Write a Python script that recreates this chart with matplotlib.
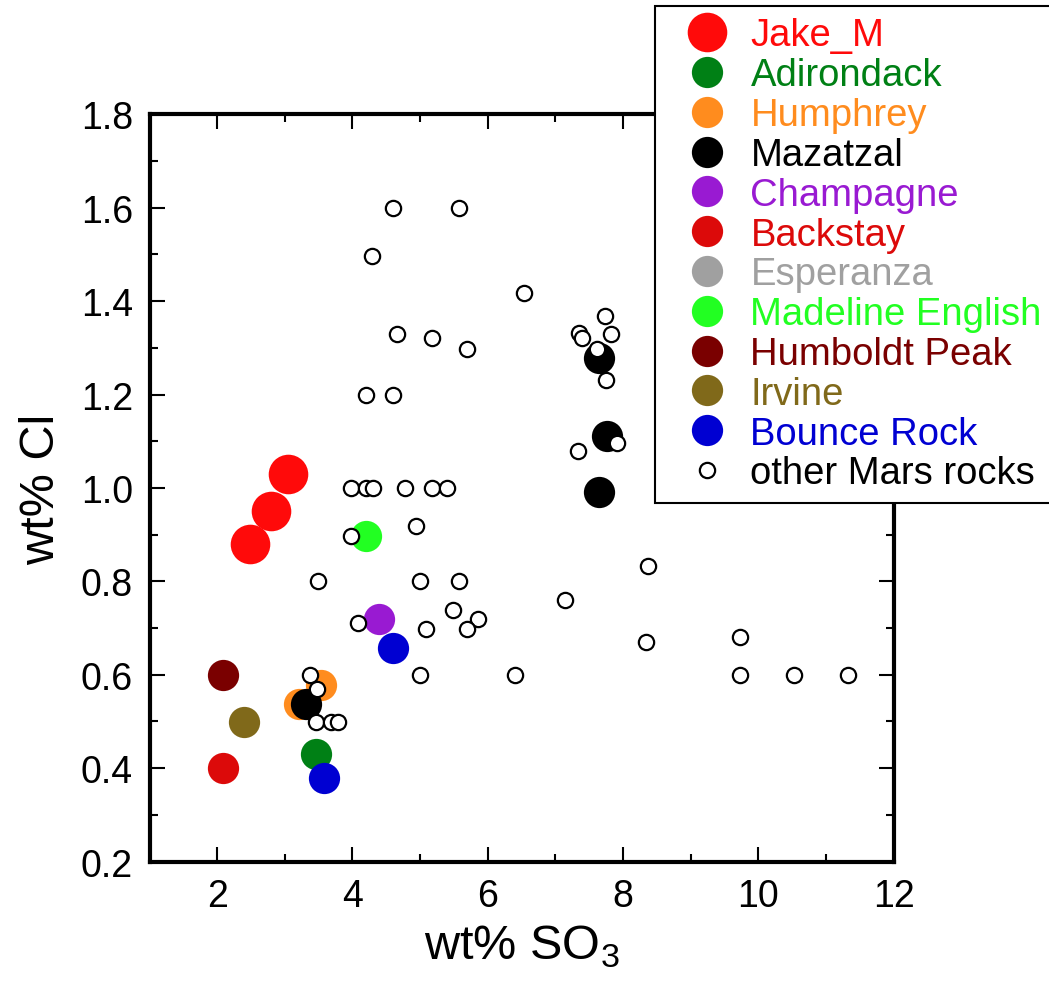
import matplotlib
matplotlib.use('Agg')
import matplotlib.pyplot as plt

plt.rcParams['font.family'] = ['Liberation Sans', 'DejaVu Sans']
plt.rcParams['mathtext.fontset'] = 'custom'
plt.rcParams['mathtext.rm'] = 'Liberation Sans'

# wt% SO3 (x) and wt% Cl (y)
jake_x = [3.05, 2.80, 2.48]
jake_y = [1.03, 0.95, 0.88]
adirondack_x = [3.46]
adirondack_y = [0.43]
humphrey_x = [3.53, 3.21]
humphrey_y = [0.578, 0.538]
mazatzal_x = [3.31, 7.64, 7.76, 7.64]
mazatzal_y = [0.538, 1.279, 1.112, 0.991]
champagne_x = [4.39]
champagne_y = [0.72]
backstay_x = [2.08]
backstay_y = [0.40]
esperanza_x = []
esperanza_y = []
madeline_x = [4.20]
madeline_y = [0.898]
humboldt_x = [2.08]
humboldt_y = [0.60]
irvine_x = [2.39]
irvine_y = [0.498]
bounce_x = [4.60, 3.58]
bounce_y = [0.658, 0.378]

other_x = [4.60, 5.58, 4.29, 6.53, 4.66, 5.18, 5.70, 4.20, 4.60,
           3.98, 4.20, 4.31, 4.78, 5.18, 5.40, 4.94, 3.98,
           3.49, 5.00, 5.58, 5.49, 5.85, 5.70, 5.09, 4.08,
           5.00, 3.37, 3.47, 3.46, 3.68, 3.79, 6.40,
           7.73, 7.35, 7.40, 7.82, 7.61, 7.75, 7.33, 7.91,
           8.37, 7.14, 8.34, 9.73, 9.73, 10.53, 11.33]
other_y = [1.60, 1.60, 1.497, 1.418, 1.329, 1.32, 1.297, 1.20, 1.20,
           1.00, 1.00, 1.00, 1.00, 1.00, 1.00, 0.919, 0.898,
           0.80, 0.80, 0.80, 0.738, 0.72, 0.698, 0.698, 0.71,
           0.60, 0.60, 0.569, 0.498, 0.498, 0.498, 0.60,
           1.369, 1.331, 1.321, 1.329, 1.298, 1.231, 1.08, 1.097,
           0.832, 0.76, 0.671, 0.68, 0.60, 0.60, 0.60]

groups = [
    ('Jake_M', jake_x, jake_y, '#ff0a0a', 28.5),
    ('Adirondack', adirondack_x, adirondack_y, '#008015', 22.5),
    ('Humphrey', humphrey_x, humphrey_y, '#ff8c1e', 22.5),
    ('Mazatzal', mazatzal_x, mazatzal_y, '#000000', 22.5),
    ('Champagne', champagne_x, champagne_y, '#991ad2', 22.5),
    ('Backstay', backstay_x, backstay_y, '#dc0a0a', 22.5),
    ('Esperanza', esperanza_x, esperanza_y, '#a0a0a0', 22.5),
    ('Madeline English', madeline_x, madeline_y, '#22ff22', 22.5),
    ('Humboldt Peak', humboldt_x, humboldt_y, '#7a0000', 22.5),
    ('Irvine', irvine_x, irvine_y, '#80691a', 22.5),
    ('Bounce Rock', bounce_x, bounce_y, '#0000d2', 22.5),
]

fig = plt.figure(figsize=(10.49, 9.87), dpi=100)
ax = fig.add_axes([0.1426, 0.1261, 0.7092, 0.7571])

for name, xs, ys, col, ms in groups:
    ax.plot(xs, ys, 'o', color=col, ms=ms, mec='none', label=name)
ax.plot(other_x, other_y, 'o', mfc='white', mec='black', ms=11, mew=1.6,
        label='other Mars rocks')

ax.set_xlim(1, 12)
ax.set_ylim(0.2, 1.8)
ax.set_xticks([2, 4, 6, 8, 10, 12])
ax.set_xticks([3, 5, 7, 9, 11], minor=True)
ax.set_yticks([0.2, 0.4, 0.6, 0.8, 1.0, 1.2, 1.4, 1.6, 1.8])
ax.set_yticks([0.3, 0.5, 0.7, 0.9, 1.1, 1.3, 1.5, 1.7], minor=True)
ax.yaxis.set_major_formatter(plt.FormatStrFormatter('%.1f'))
ax.tick_params(which='both', direction='in', top=True, right=True, width=1.5)
ax.tick_params(which='major', length=11, labelsize=27, pad=12)
ax.tick_params(which='minor', length=6)
for s in ax.spines.values():
    s.set_linewidth(3)

ax.set_xlabel('wt% SO$_{\\mathregular{3}}$', fontsize=35, labelpad=6)
ax.set_ylabel('wt% Cl', fontsize=35, labelpad=12)

leg = ax.legend(loc='upper left', bbox_to_anchor=(0.6244, 0.9929),
                bbox_transform=fig.transFigure, borderaxespad=0,
                fontsize=27.5, frameon=True, fancybox=False, framealpha=1,
                edgecolor='black', labelspacing=0.1, handlelength=2.1,
                handletextpad=0.1, borderpad=0.3, numpoints=1)
leg.get_frame().set_linewidth(1.5)
for txt, h in zip(leg.get_texts(), leg.legend_handles):
    col = h.get_markerfacecolor()
    if col != 'white':
        txt.set_color(col)

fig.savefig('out.png', dpi=100)
